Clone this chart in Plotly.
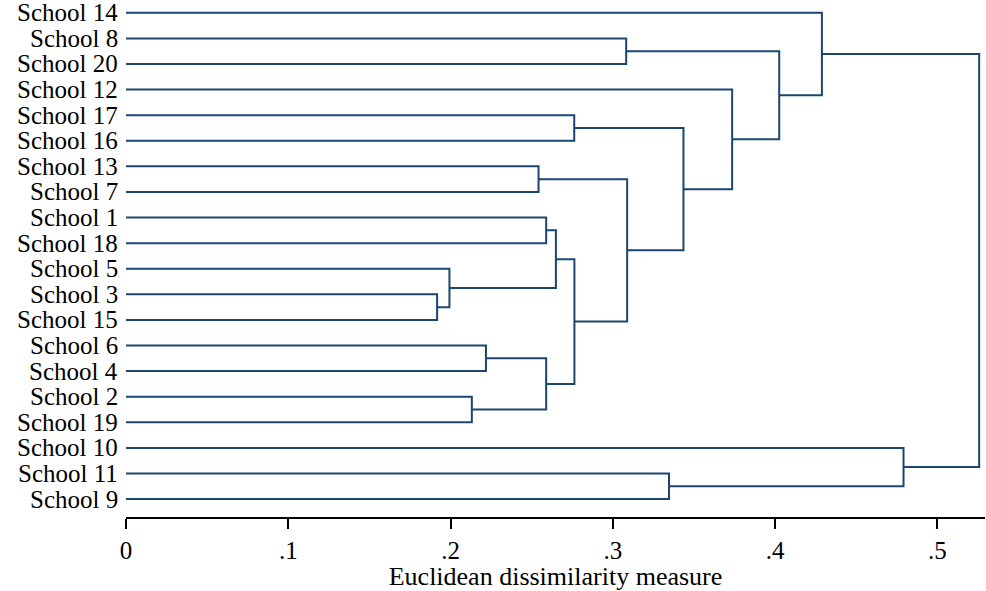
import plotly.graph_objects as go

# Leaf order (top to bottom)
leaves = ["School 14", "School 8", "School 20", "School 12", "School 17",
          "School 16", "School 13", "School 7", "School 1", "School 18",
          "School 5", "School 3", "School 15", "School 6", "School 4",
          "School 2", "School 19", "School 10", "School 11", "School 9"]

# Merges: new cluster id, left member, right member, dissimilarity
merge_id = ["C1", "C2", "C3", "C4", "C5", "C6", "C7", "C8", "C9", "C10",
            "C11", "C12", "C13", "C14", "C15", "C16", "C17", "C18", "C19"]
merge_a = ["School 3", "School 5", "School 2", "School 6", "School 13",
           "School 1", "C4", "C6", "School 17", "C8",
           "School 8", "C5", "School 11", "C9", "School 12",
           "C11", "School 14", "School 10", "C17"]
merge_b = ["School 15", "C1", "School 19", "School 4", "School 7",
           "School 18", "C3", "C2", "School 16", "C7",
           "School 20", "C10", "School 9", "C12", "C14",
           "C15", "C16", "C13", "C18"]
merge_h = [0.1917, 0.1993, 0.2131, 0.2218, 0.2542,
           0.2589, 0.2589, 0.2649, 0.2762, 0.2763,
           0.3082, 0.3088, 0.3346, 0.3435, 0.3735,
           0.4025, 0.4288, 0.4791, 0.5257]

tick_vals = [0, 0.1, 0.2, 0.3, 0.4, 0.5]
tick_text = ["0", ".1", ".2", ".3", ".4", ".5"]

pos = {name: i for i, name in enumerate(leaves)}
hgt = {name: 0.0 for name in leaves}

xs, ys = [], []
for cid, a, b, h in zip(merge_id, merge_a, merge_b, merge_h):
    xs += [hgt[a], h, h, hgt[b], None]
    ys += [pos[a], pos[a], pos[b], pos[b], None]
    pos[cid] = (pos[a] + pos[b]) / 2
    hgt[cid] = h

fig = go.Figure()
fig.add_trace(go.Scatter(x=xs, y=ys, mode="lines",
                         line=dict(color="#1a476f", width=2),
                         hoverinfo="skip", showlegend=False, cliponaxis=False))

font_family = "Liberation Serif"
for i, name in enumerate(leaves):
    fig.add_annotation(x=0, xref="paper", y=i, yref="y", text=name,
                       showarrow=False, xanchor="right", yanchor="middle",
                       xshift=-6,
                       font=dict(family=font_family, size=25, color="black"))

fig.update_layout(
    width=986, height=591,
    margin=dict(l=126, r=1, t=0, b=74),
    paper_bgcolor="white", plot_bgcolor="white",
    font=dict(family=font_family, color="black"),
    xaxis=dict(range=[0, 0.5293], tickvals=tick_vals, ticktext=tick_text,
               ticks="outside", ticklen=10, tickwidth=1.5, tickcolor="black",
               showline=True, linecolor="black", linewidth=1.5,
               showgrid=False, zeroline=False,
               tickfont=dict(family=font_family, size=25, color="black"),
               title=dict(text="Euclidean dissimilarity measure",
                          font=dict(family=font_family, size=26, color="black"),
                          standoff=0)),
    yaxis=dict(range=[19.7, -0.5], showticklabels=False, ticks="",
               showline=False, showgrid=False, zeroline=False),
)

fig.write_html("out.html")
